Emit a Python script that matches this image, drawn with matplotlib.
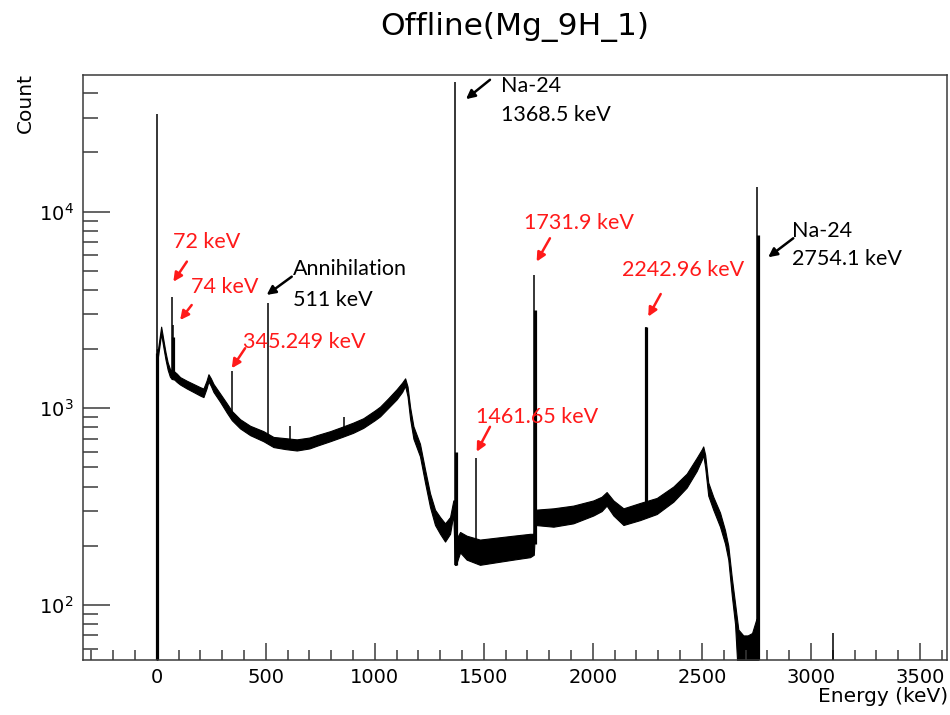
import matplotlib
matplotlib.use('Agg')
import matplotlib.pyplot as plt
from matplotlib.ticker import LogLocator, LogFormatterMathtext, NullFormatter, MultipleLocator

plt.rcParams['font.family'] = ['DejaVu Sans']
plt.rcParams['mathtext.default'] = 'regular'

# --- Spectrum continuum (Energy keV, lower / upper edge of the noisy band) ---
cont_e = [0, 5, 12, 20, 26, 32, 40, 50, 60, 68, 80, 92, 107, 138, 168, 199, 214, 228, 237, 248,
          260, 290, 321, 344, 382, 428, 489, 535, 590, 642, 700, 734, 795, 850, 900, 947, 1000,
          1024, 1060, 1100, 1125, 1139, 1150, 1162, 1177, 1207, 1230, 1253, 1276, 1299, 1322,
          1345, 1360, 1367, 1372, 1391, 1421, 1482, 1559, 1635, 1712, 1729, 1736, 1819, 1910,
          2002, 2040, 2063, 2094, 2140, 2216, 2293, 2369, 2430, 2476, 2500, 2506, 2515, 2529,
          2552, 2583, 2606, 2621, 2637, 2652, 2667, 2690, 2710, 2730, 2750, 2758, 2765, 3600]
cont_lo = [1, 1820, 2060, 2400, 2180, 1990, 1770, 1570, 1450, 1410, 1400, 1360, 1320, 1260, 1210,
           1160, 1140, 1260, 1370, 1300, 1210, 1080, 950, 870, 790, 730, 680, 635, 620, 610, 625,
           645, 680, 715, 750, 795, 870, 910, 1000, 1110, 1210, 1300, 1150, 880, 700, 570, 420,
           315, 255, 230, 210, 230, 290, 160, 160, 185, 170, 160, 165, 170, 175, 180, 255, 250,
           260, 285, 300, 320, 285, 255, 270, 290, 335, 395, 480, 550, 580, 500, 360, 305, 250,
           205, 170, 112, 80, 40, 40, 40, 40, 40, 1, 1, 1]
cont_hi = [2000, 1980, 2250, 2600, 2380, 2170, 1930, 1710, 1590, 1550, 1540, 1500, 1440, 1380,
           1330, 1280, 1260, 1380, 1490, 1420, 1330, 1190, 1060, 970, 880, 815, 765, 715, 705,
           695, 710, 730, 765, 805, 845, 890, 975, 1020, 1120, 1250, 1350, 1420, 1290, 1010, 810,
           660, 490, 370, 305, 280, 260, 280, 340, 340, 215, 235, 225, 215, 220, 225, 230, 230,
           305, 310, 320, 340, 355, 375, 340, 310, 330, 350, 400, 465, 560, 620, 640, 580, 420,
           355, 295, 240, 200, 138, 102, 75, 70, 70, 72, 85, 85, 1, 1]

# --- Photopeaks (single bins) ---
peak_e = [0, 70, 76, 345.2, 511, 610, 860, 1368.5, 1461.7, 1731.9, 2243, 2754.1, 3100]
peak_top = [31500, 3700, 2650, 1550, 3420, 810, 900, 45600, 556, 4760, 2600, 13400, 72]
peak_base = [1, 1500, 1500, 920, 730, 660, 760, 160, 190, 205, 300, 1, 1]

# neighbouring bins drawn thicker
sh_e = [2, 76, 1370, 1733, 2244, 2755]
sh_top = [1900, 2300, 600, 3160, 2600, 7610]
sh_base = [1, 1500, 160, 205, 300, 1]

fig = plt.figure(figsize=(9.5, 7.15), dpi=100)
ax = fig.add_axes([83.3/950, 55/715, (947-83.3)/950, (660-75)/715])

ax.fill_between(cont_e, cont_lo, cont_hi, color='black', lw=0.8)
ax.vlines(peak_e, peak_base, peak_top, color='black', lw=1.1)
ax.vlines(sh_e, sh_base, sh_top, color='black', lw=2.3)

ax.set_yscale('log')
ax.set_xlim(-337, 3624)
ax.set_ylim(52.5, 49500)

# ROOT-like axes
axcol = '#3a3a3a'
for s in ax.spines.values():
    s.set_color(axcol)
    s.set_linewidth(1.1)
ax.xaxis.set_major_locator(MultipleLocator(500))
ax.xaxis.set_minor_locator(MultipleLocator(100))
ax.yaxis.set_major_locator(LogLocator(base=10, numticks=10))
ax.yaxis.set_minor_locator(LogLocator(base=10, subs=range(2, 10), numticks=20))
ax.yaxis.set_major_formatter(LogFormatterMathtext())
ax.yaxis.set_minor_formatter(NullFormatter())
ax.tick_params(which='both', direction='in', color=axcol, width=1.1, top=False, right=False,
               labelsize=14)
ax.tick_params(axis='x', which='major', length=12.2, pad=6)
ax.tick_params(axis='x', which='minor', length=7.2)
ax.tick_params(axis='y', which='major', length=19.4, pad=7)
ax.tick_params(axis='y', which='minor', length=10.8)

fig.text(515/950, 1-27/715, 'Offline(Mg_9H_1)', fontsize=22.5, ha='center', va='center')
fig.text(25/950, 1-73/715, 'Count', fontsize=14.5, rotation=90, ha='center', va='top')
fig.text(948/950, 1-697/715, 'Energy (keV)', fontsize=14.5, ha='right', va='center')

# --- Annotations ---
afont = dict(family=['Lato', 'DejaVu Sans'], fontsize=15.5)
red = '#ff1a1a'

def label(x, y, s, c, ha='left'):
    ax.text(x, y, s, color=c, ha=ha, va='center', **afont)

def arrow(x0, y0, x1, y1, c):
    ax.annotate('', xy=(x1, y1), xytext=(x0, y0),
                arrowprops=dict(arrowstyle='-|>', color=c, lw=1.8, mutation_scale=13,
                                shrinkA=0, shrinkB=0))

label(73, 7030, '72 keV', red)
arrow(138, 5570, 76, 4400, red)
label(157, 4160, '74 keV', red)
arrow(160, 3350, 107, 2810, red)
label(624, 5090, 'Annihilation', 'black')
label(624, 3556, '511 keV', 'black')
arrow(619, 4670, 504, 3770, 'black')
label(394, 2180, '345.249 keV', red)
arrow(405, 2020, 344, 1598, red)
label(1577, 43300, 'Na-24', 'black')
label(1577, 31000, '1368.5 keV', 'black')
arrow(1528, 46800, 1418, 37300, 'black')
label(1684, 8730, '1731.9 keV', red)
arrow(1803, 7320, 1742, 5570, red)
label(1464, 906, '1461.65 keV', red)
arrow(1528, 805, 1467, 601, red)
label(2693, 5050, '2242.96 keV', red, ha='right')
arrow(2311, 3810, 2254, 2925, red)
label(2912, 7980, 'Na-24', 'black')
label(2912, 5730, '2754.1 keV', 'black')
arrow(2919, 7320, 2804, 5860, 'black')

fig.savefig('out.png', dpi=100)
